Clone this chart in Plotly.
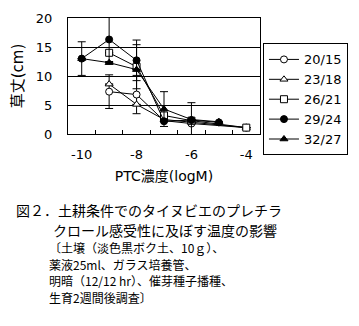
import plotly.graph_objects as go

# ---- data ----
series_names = ["20/15", "23/18", "26/21", "29/24", "32/27"]
x_low = [-9, -8, -7, -6, -4]
x_high = [-10, -9, -8, -7, -6, -5]
y_2015 = [7.3, 6.8, 2.3, 1.8, 1.1]
y_2318 = [8.6, 5.1, 2.5, 2.0, 1.1]
y_2621 = [14.0, 11.6, 3.2, 2.3, 1.1]
y_2924 = [13.0, 16.3, 12.7, 2.2, 2.4, 2.0]
y_3227 = [13.0, 12.3, 11.1, 4.3, 2.5, 2.1]
e_2015 = [2.9, 3.3, None, None, None]
e_2318 = [None, None, None, None, None]
e_2621 = [None, 3.8, None, None, None]
e_2924 = [2.9, 3.8, 3.5, None, 3.0, None]
e_3227 = [None, None, None, 3.0, None, None]
x_ticks = [-10, -8, -6, -4]
x_ticktext = ["-10", "-8", "-6", "-4"]
y_ticks = [0, 5, 10, 15, 20]
caption = [
    "図２．土耕条件でのタイヌビエのプレチラ",
    "クロール感受性に及ぼす温度の影響",
    "〔土壌（淡色黒ボク土、10ｇ）、",
    "薬液25ml、ガラス培養管、",
    "明暗（12/12 hr）、催芽種子播種、",
    "生育2週間後調査〕",
]

W, H = 359, 326
L, R, T, B = 68, 262, 11, 134


def px(xp):
    return (xp - L) / (R - L)


def py(yp):
    return (B - yp) / (B - T)


LATIN = "DejaVu Sans, Noto Sans CJK JP"
CJK = "Noto Sans CJK JP"

specs = [
    (x_low, y_2015, e_2015, "circle", "white"),
    (x_low, y_2318, e_2318, "triangle-up", "white"),
    (x_low, y_2621, e_2621, "square", "white"),
    (x_high, y_2924, e_2924, "circle", "black"),
    (x_high, y_3227, e_3227, "triangle-up", "black"),
]

fig = go.Figure()
for name, (xs, ys, es, sym, fill) in zip(series_names, specs):
    fig.add_trace(go.Scatter(
        x=xs, y=ys, name=name, mode="lines+markers",
        line=dict(color="black", width=1),
        marker=dict(symbol=sym, size=7, color=fill,
                    line=dict(color="black", width=1)),
        error_y=dict(type="data", array=es, visible=True, color="black",
                     thickness=1, width=4),
        cliponaxis=True,
    ))

fig.update_layout(
    width=W, height=H,
    margin=dict(l=L, r=W - R, t=T, b=H - B, pad=0),
    paper_bgcolor="white", plot_bgcolor="white",
    font=dict(family=LATIN, size=13, color="black"),
    showlegend=True,
    legend=dict(
        x=px(265), y=py(38), xanchor="left", yanchor="top",
        bordercolor="black", borderwidth=1, bgcolor="white",
        font=dict(family=LATIN, size=13, color="black"),
        itemwidth=30, tracegroupgap=0,
    ),
    xaxis=dict(
        range=[-10.5, -3.5], tickmode="array", tickvals=x_ticks,
        ticktext=x_ticktext, ticks="", showgrid=False, zeroline=False,
        showline=True, linecolor="black", linewidth=1, mirror=True,
        tickfont=dict(family=LATIN, size=13), ticklabelstandoff=8,
        minor=dict(tickmode="array", tickvals=[-9.5, -8.5, -7.5, -6.5, -5.5, -4.5],
                   ticks="inside", ticklen=4, tickcolor="black", tickwidth=1,
                   showgrid=False),
        title=dict(text="PTC濃度(logM)", font=dict(family=LATIN, size=14),
                   standoff=10),
    ),
    yaxis=dict(
        range=[0, 20], tickmode="array", tickvals=y_ticks, ticks="",
        showgrid=True, gridcolor="black", gridwidth=1, zeroline=False,
        showline=True, linecolor="black", linewidth=1, mirror=True,
        tickfont=dict(family=LATIN, size=13), ticklabelstandoff=12,
        title=dict(text="草丈(cm)", font=dict(family=LATIN, size=15),
                   standoff=8),
    ),
)

# (left x px, centre y px, font size)
cap_pos = [(14, 215, 14), (52, 235.5, 14), (48, 254.5, 12),
           (48, 272, 12), (48, 289.5, 12), (48, 307, 12)]
for text, (xp, yp, fs) in zip(caption, cap_pos):
    fig.add_annotation(
        text=text, x=px(xp), y=py(yp), xref="paper", yref="paper",
        xanchor="left", yanchor="middle", showarrow=False, borderpad=0,
        font=dict(family=CJK, size=fs, color="black"),
    )

fig.write_html("out.html")
